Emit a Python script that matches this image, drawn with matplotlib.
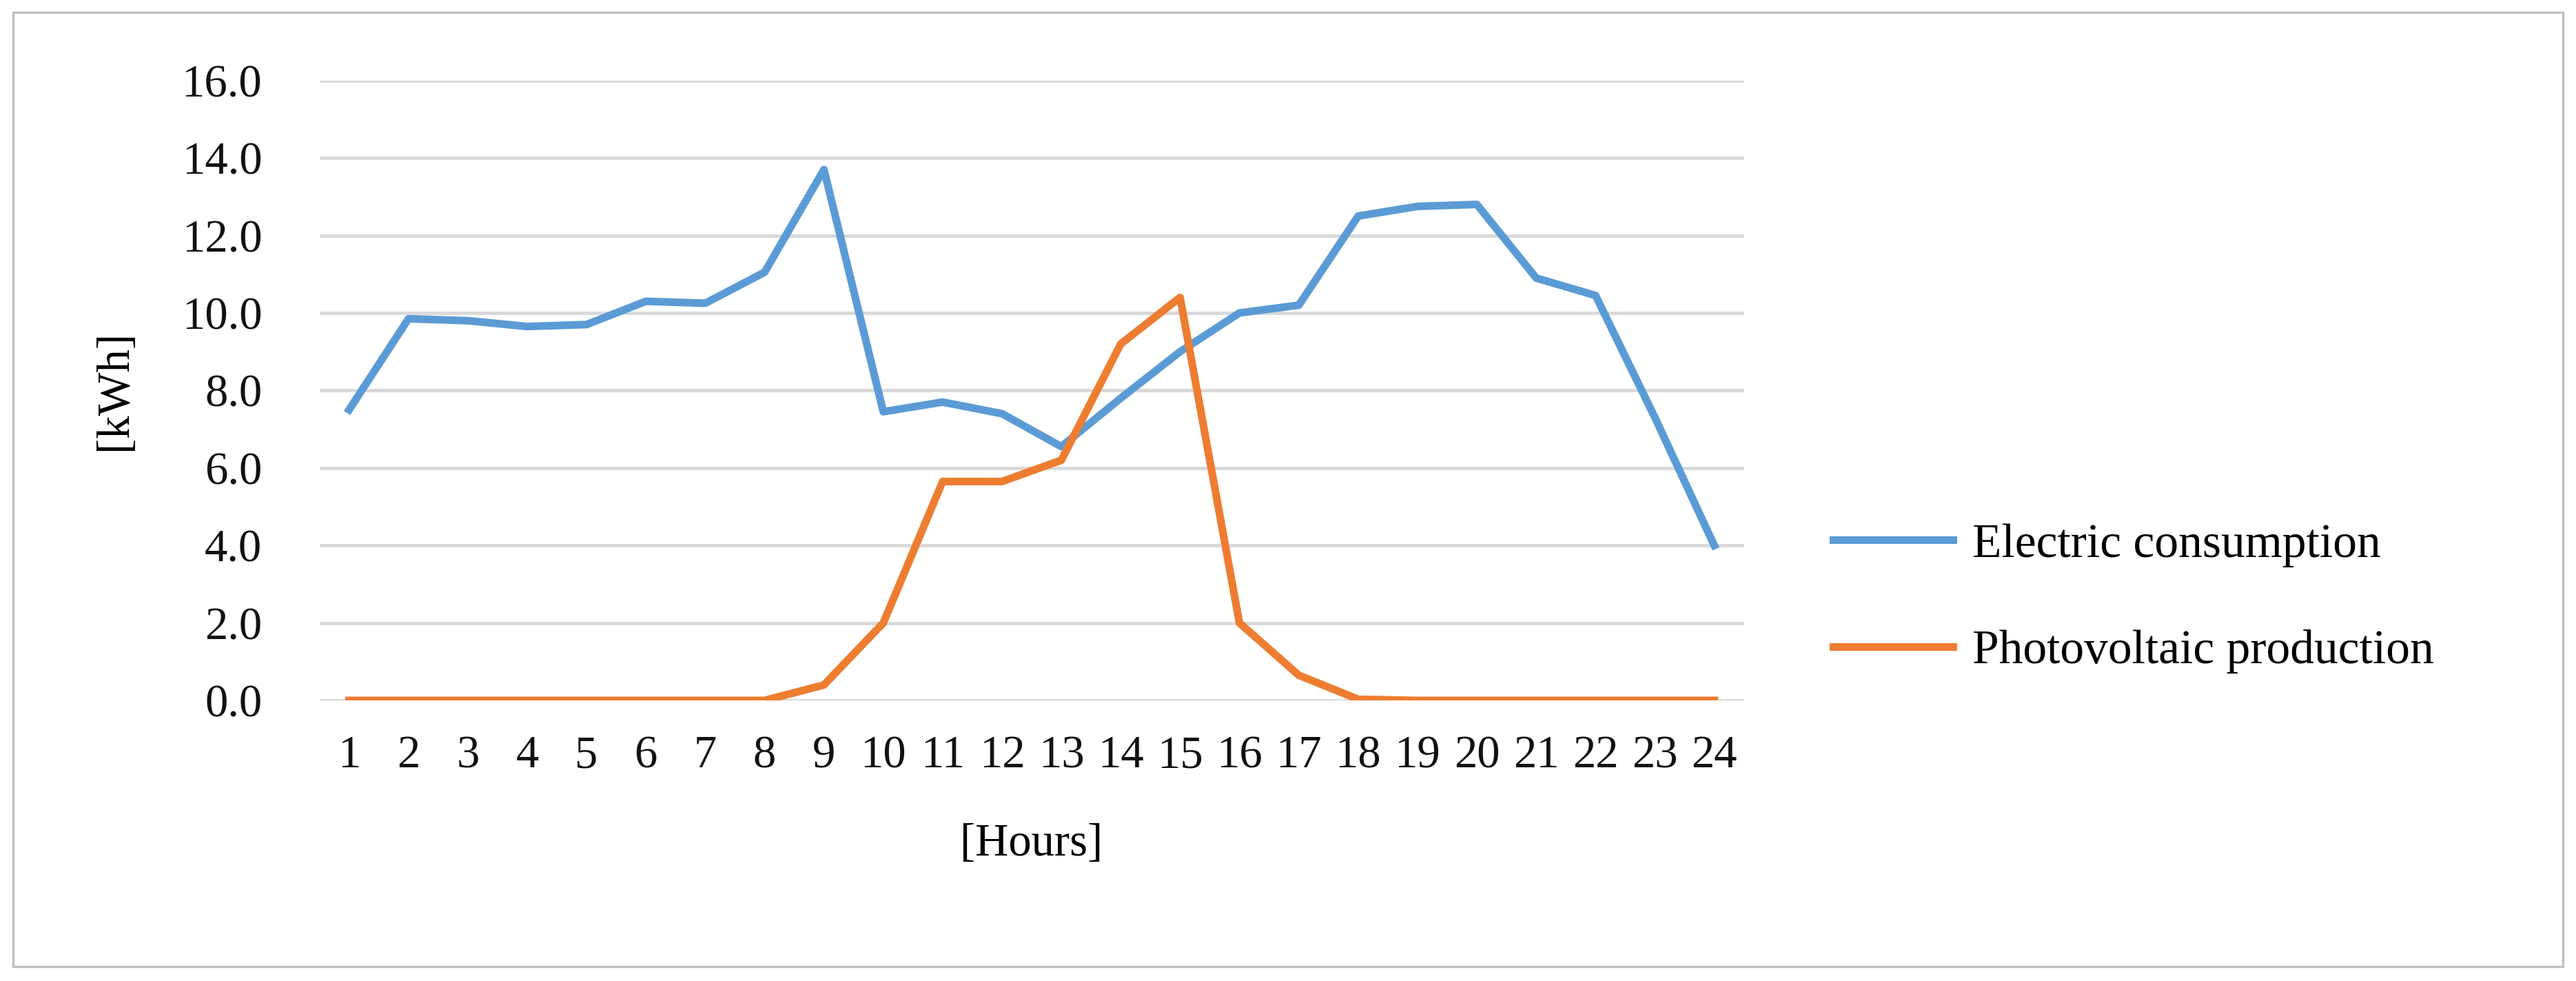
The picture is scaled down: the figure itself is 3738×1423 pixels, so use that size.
import matplotlib.pyplot as plt
from matplotlib.patches import Rectangle

hours = list(range(1, 25))
electric = [7.5, 9.85, 9.8, 9.65, 9.7, 10.3, 10.25, 11.05, 13.7, 7.45, 7.7, 7.4,
            6.55, 7.8, 9.0, 10.0, 10.2, 12.5, 12.75, 12.8, 10.9, 10.45, 7.3, 4.0]
photovoltaic = [0, 0, 0, 0, 0, 0, 0, 0, 0.4, 2.0, 5.65, 5.65,
                6.2, 9.2, 10.4, 2.0, 0.65, 0.03, 0, 0, 0, 0, 0, 0]
yticks = [0, 2, 4, 6, 8, 10, 12, 14, 16]

plt.rcParams['font.family'] = ['Liberation Serif']
fig = plt.figure(figsize=(18.69, 7.115), dpi=200)
ax = fig.add_axes([0.124, 0.286, 0.553, 0.632])

ax.plot(hours, electric, color='#5B9BD5', lw=4, label='Electric consumption')
ax.plot(hours, photovoltaic, color='#ED7D31', lw=4, label='Photovoltaic production')

ax.set_xlim(0.5, 24.5)
ax.set_ylim(0, 16)
ax.set_xticks(hours)
ax.set_yticks(yticks)
ax.set_yticklabels([f'{v:.1f}' for v in yticks])
ax.tick_params(axis='both', length=0, labelsize=24, colors='#111111')
ax.tick_params(axis='y', pad=30)
ax.tick_params(axis='x', pad=18)
ax.grid(axis='y', color='#D9D9D9', lw=1.8)
ax.set_axisbelow(True)
for s in ax.spines.values():
    s.set_visible(False)
ax.set_xlabel('[Hours]', fontsize=24, labelpad=24)
ax.set_ylabel('[kWh]', fontsize=24, labelpad=24)

ax.legend(loc='center left', bbox_to_anchor=(0.695, 0.39), bbox_transform=fig.transFigure,
          frameon=False, fontsize=25, handlelength=2.5, handletextpad=0.4, labelspacing=1.3)

fig.patches.append(Rectangle((0.005, 0.015), 0.99, 0.972, transform=fig.transFigure,
                             fill=False, edgecolor='#BFBFBF', lw=1.2))
fig.savefig('out.png', dpi=200, facecolor='white')
